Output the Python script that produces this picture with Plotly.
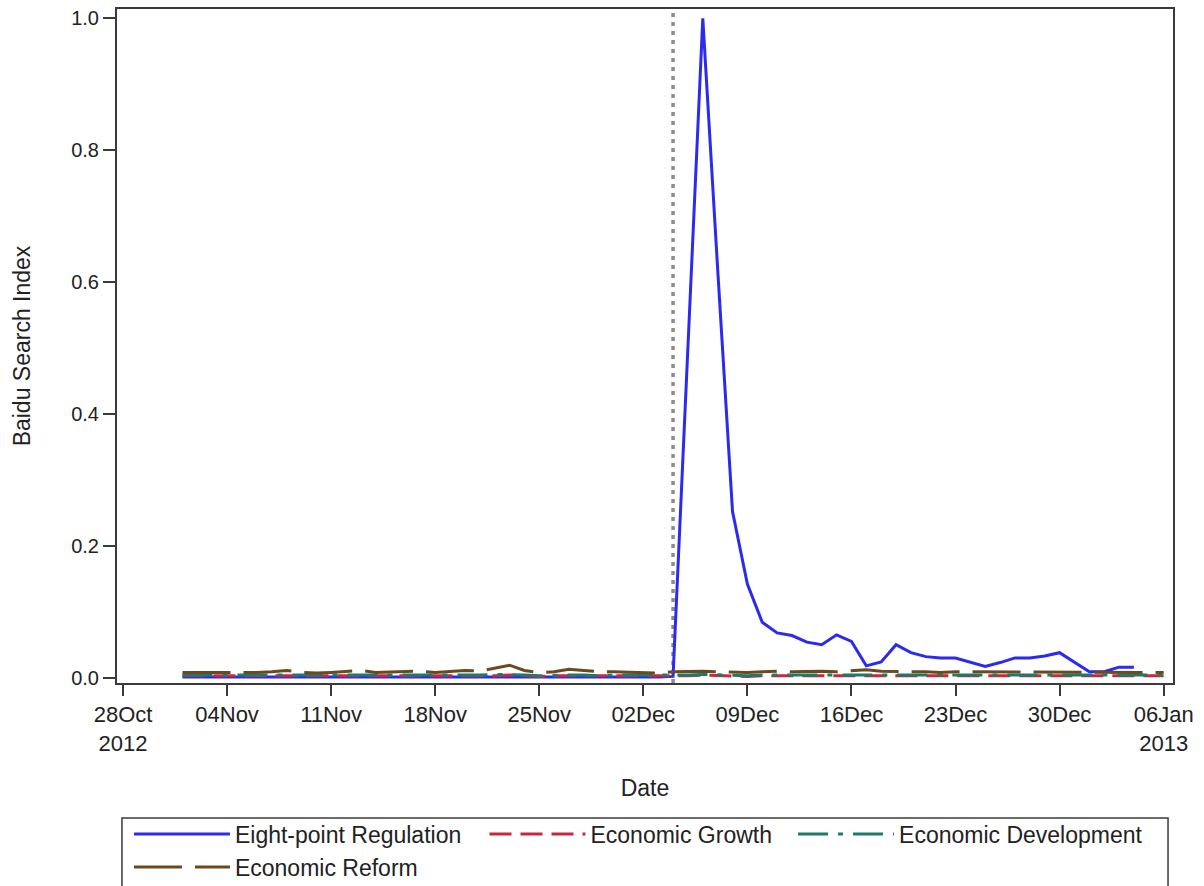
import pandas as pd
import plotly.graph_objects as go

# Daily observation dates, 1 Nov 2012 - 6 Jan 2013
dates = pd.date_range("2012-11-01", "2013-01-06", freq="D")
reg_dates = dates[:65]  # regulation series runs to 4 Jan 2013

eight_point = [
    # Nov
    0.001, 0.001, 0.000, 0.001, 0.001, 0.001, 0.000, 0.001, 0.001, 0.001,
    0.001, 0.000, 0.001, 0.001, 0.001, 0.001, 0.001, 0.000, 0.001, 0.001,
    0.001, 0.001, 0.001, 0.001, 0.001, 0.000, 0.001, 0.001, 0.001, 0.001,
    # Dec 1-10
    0.001, 0.001, 0.001, 0.002, 0.500, 1.000, 0.620, 0.252, 0.142, 0.084,
    # Dec 11-20
    0.068, 0.064, 0.054, 0.050, 0.065, 0.055, 0.018, 0.024, 0.050, 0.038,
    # Dec 21-31
    0.032, 0.030, 0.030, 0.023, 0.017, 0.023, 0.030, 0.030, 0.033, 0.038, 0.023,
    # Jan 1-4
    0.009, 0.009, 0.016, 0.016,
]

economic_growth = [
    0.003, 0.003, 0.002, 0.003, 0.003, 0.003, 0.002, 0.003, 0.003, 0.002,
    0.003, 0.003, 0.003, 0.002, 0.003, 0.003, 0.003, 0.002, 0.003, 0.003,
    0.003, 0.003, 0.004, 0.003, 0.002, 0.003, 0.003, 0.003, 0.002, 0.003,
    0.003, 0.002, 0.003, 0.003, 0.003, 0.004, 0.003, 0.003, 0.002, 0.003,
    0.003, 0.003, 0.003, 0.002, 0.003, 0.003, 0.003, 0.003, 0.002, 0.003,
    0.003, 0.003, 0.002, 0.003, 0.003, 0.002, 0.003, 0.003, 0.003, 0.002,
    0.003, 0.003, 0.003, 0.002, 0.003, 0.003, 0.003,
]

economic_development = [
    0.004, 0.004, 0.003, 0.004, 0.004, 0.004, 0.003, 0.004, 0.004, 0.003,
    0.004, 0.004, 0.004, 0.003, 0.004, 0.004, 0.004, 0.003, 0.004, 0.004,
    0.004, 0.005, 0.005, 0.004, 0.003, 0.004, 0.004, 0.004, 0.003, 0.004,
    0.004, 0.003, 0.004, 0.004, 0.004, 0.005, 0.004, 0.004, 0.003, 0.004,
    0.004, 0.004, 0.004, 0.003, 0.004, 0.004, 0.004, 0.004, 0.003, 0.004,
    0.004, 0.004, 0.003, 0.004, 0.004, 0.003, 0.004, 0.004, 0.004, 0.003,
    0.004, 0.004, 0.004, 0.003, 0.004, 0.004, 0.004,
]

economic_reform = [
    # Nov
    0.008, 0.008, 0.008, 0.007, 0.008, 0.008, 0.009, 0.011, 0.008, 0.007,
    0.008, 0.010, 0.011, 0.008, 0.009, 0.010, 0.010, 0.008, 0.009, 0.011,
    0.010, 0.014, 0.019, 0.011, 0.008, 0.009, 0.013, 0.011, 0.009, 0.009,
    # Dec
    0.008, 0.008, 0.007, 0.009, 0.010, 0.010, 0.009, 0.008, 0.008, 0.009,
    0.010, 0.009, 0.010, 0.010, 0.009, 0.010, 0.012, 0.010, 0.009, 0.009,
    0.009, 0.008, 0.009, 0.009, 0.008, 0.009, 0.009, 0.008, 0.008, 0.009, 0.009,
    # Jan
    0.008, 0.009, 0.009, 0.009, 0.009, 0.008,
]

tick_dates = ["2012-10-28", "2012-11-04", "2012-11-11", "2012-11-18", "2012-11-25",
              "2012-12-02", "2012-12-09", "2012-12-16", "2012-12-23", "2012-12-30",
              "2013-01-06"]
tick_labels = ["28Oct<br>2012", "04Nov", "11Nov", "18Nov", "25Nov", "02Dec",
               "09Dec", "16Dec", "23Dec", "30Dec", "06Jan<br>2013"]
y_ticks = [0.0, 0.2, 0.4, 0.6, 0.8, 1.0]

event_date = "2012-12-04"

FONT = "Liberation Sans, Arial, sans-serif"
TEXT = "#222222"
AXIS = "#3a3a3a"
LEG_FONT = dict(size=23, family=FONT, color=TEXT)

fig = go.Figure()

fig.add_trace(go.Scatter(
    x=reg_dates, y=eight_point, mode="lines", name="Eight-point Regulation",
    line=dict(color="#2a2af0", width=3), legend="legend",
))
fig.add_trace(go.Scatter(
    x=dates, y=economic_growth, mode="lines", name="Economic Growth",
    line=dict(color="#c8283c", width=3, dash="22px,9px"), legend="legend2",
))
fig.add_trace(go.Scatter(
    x=dates, y=economic_development, mode="lines", name="Economic Development",
    line=dict(color="#1b7a6c", width=3, dash="30px,10px,5px,10px"), legend="legend3",
))
fig.add_trace(go.Scatter(
    x=dates, y=economic_reform, mode="lines", name="Economic Reform",
    line=dict(color="#6b4a1e", width=3, dash="48px,13px"), legend="legend4",
))

# Reference line at the announcement date
fig.add_shape(
    type="line", xref="x", yref="paper", x0=event_date, x1=event_date, y0=0, y1=1,
    line=dict(color="#8c8c8c", width=3.5, dash="4px,5px"), layer="below",
)

# Frame around the legend entries (runs past the bottom edge of the page)
fig.add_shape(
    type="rect", xref="paper", yref="paper",
    x0=0.0047, x1=0.9953, y0=-0.2003, y1=-0.33,
    line=dict(color=AXIS, width=1.5), fillcolor="rgba(0,0,0,0)",
)


def legend_box(x, y):
    return dict(
        orientation="v", x=x, xanchor="left", y=y, yanchor="middle",
        bgcolor="rgba(0,0,0,0)", borderwidth=0, font=LEG_FONT, itemwidth=96,
    )


fig.update_layout(
    width=1204, height=886,
    margin=dict(l=117, r=31, t=9, b=203, autoexpand=False),
    paper_bgcolor="white", plot_bgcolor="white",
    font=dict(family=FONT, color=TEXT, size=20),
    showlegend=True,
    legend=legend_box(0.0113, -0.2240),
    legend2=legend_box(0.3480, -0.2240),
    legend3=legend_box(0.6402, -0.2240),
    legend4=legend_box(0.0113, -0.2730),
)

fig.update_xaxes(
    type="date",
    range=["2012-10-27 14:18", "2013-01-06 15:07"],
    tickmode="array", tickvals=tick_dates, ticktext=tick_labels,
    ticks="outside", ticklen=11, tickwidth=2, tickcolor=AXIS,
    showline=True, linecolor=AXIS, linewidth=2, mirror=True,
    showgrid=False, zeroline=False,
    tickfont=dict(size=22, family=FONT, color=TEXT),
    title=dict(text="Date", font=dict(size=23, family=FONT, color=TEXT), standoff=25),
)
fig.update_yaxes(
    range=[-0.0080, 1.0141],
    tickmode="array", tickvals=y_ticks, tickformat=".1f",
    ticks="outside", ticklen=12, tickwidth=2, tickcolor=AXIS,
    showline=True, linecolor=AXIS, linewidth=2, mirror=True,
    showgrid=False, zeroline=False,
    tickfont=dict(size=20, family=FONT, color=TEXT),
    title=dict(text="Baidu Search Index", font=dict(size=23, family=FONT, color=TEXT), standoff=34),
)

fig.write_html("out.html")
